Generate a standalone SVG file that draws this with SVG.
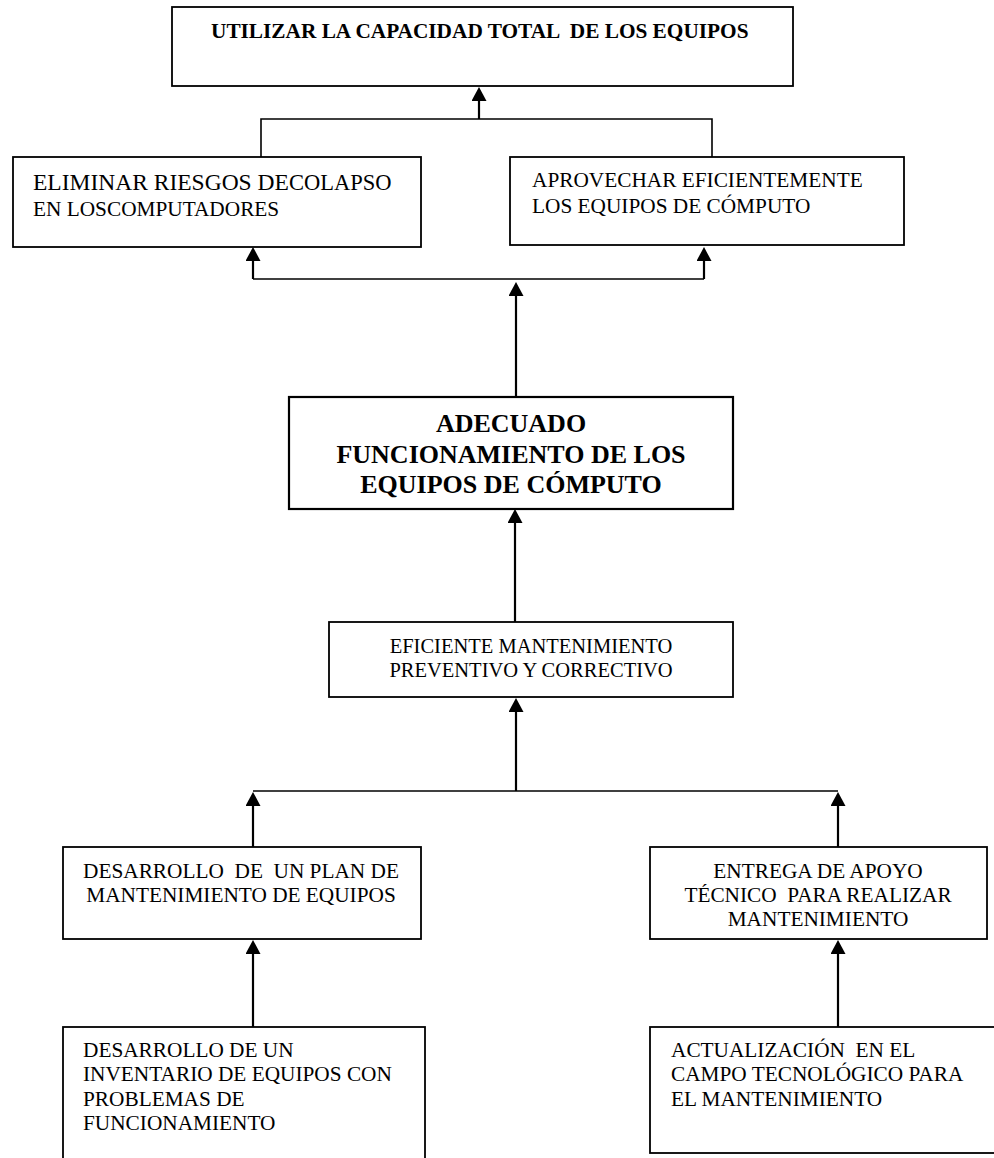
<svg xmlns="http://www.w3.org/2000/svg" width="994" height="1158" viewBox="0 0 994 1158">
<style>
  .box { fill: #ffffff; stroke: #000000; stroke-width: 1.8; }
  .t { font-family: "Liberation Serif", "Times New Roman", serif; font-size: 21.3px; fill: #000000; white-space: pre; }
  .c { text-anchor: middle; }
  .b { font-weight: bold; }
  .ln { fill: none; stroke: #000000; stroke-width: 1.6; }
  .ar { fill: none; stroke: #000000; stroke-width: 2.2; marker-end: url(#ah); }
</style>
<defs>
  <marker id="ah" viewBox="0 0 14 15" refX="6" refY="7.5" markerWidth="14" markerHeight="15" markerUnits="userSpaceOnUse" orient="auto">
    <path d="M0,0 L14,7.5 L0,15 Z" fill="#000000"/>
  </marker>
</defs>
<rect x="0" y="0" width="994" height="1158" fill="#ffffff"/>

<g id="connectors">
  <path class="ar" d="M479,119 V95"/>
  <path class="ln" d="M261,157 V119 H712 V157"/>
  <path class="ar" d="M253,279 V255"/>
  <path class="ar" d="M704,279 V255"/>
  <path class="ln" d="M253,279 H704"/>
  <path class="ar" d="M516,397 V290"/>
  <path class="ar" d="M515,622 V517"/>
  <path class="ar" d="M516,791 V706"/>
  <path class="ln" d="M253,791 H838"/>
  <path class="ar" d="M253,847 V800"/>
  <path class="ar" d="M838,847 V800"/>
  <path class="ar" d="M253,1027 V948"/>
  <path class="ar" d="M838,1027 V948"/>
</g>

<g id="node-utilizar">
  <rect class="box" x="172" y="7" width="621" height="79"/>
  <text class="t b" x="211" y="38">UTILIZAR LA CAPACIDAD TOTAL  DE LOS EQUIPOS</text>
</g>

<g id="node-eliminar">
  <rect class="box" x="13" y="157" width="408" height="90"/>
  <text class="t" x="33" y="190" style="font-size:23.5px">ELIMINAR RIESGOS DE<tspan style="font-size:22.5px">COLAPSO</tspan></text>
  <text class="t" x="33" y="216">EN LOSCOMPUTADORES</text>
</g>

<g id="node-aprovechar">
  <rect class="box" x="510" y="157" width="394" height="88"/>
  <text class="t" x="532" y="187">APROVECHAR EFICIENTEMENTE</text>
  <text class="t" x="532" y="213">LOS EQUIPOS DE CÓMPUTO</text>
</g>

<g id="node-adecuado">
  <rect class="box" x="289" y="397" width="444" height="112" style="stroke-width:2.2"/>
  <text class="t b c" x="511" y="432" style="font-size:26px">ADECUADO</text>
  <text class="t b c" x="511" y="463" style="font-size:26px">FUNCIONAMIENTO DE LOS</text>
  <text class="t b c" x="511" y="493" style="font-size:26px">EQUIPOS DE CÓMPUTO</text>
</g>

<g id="node-eficiente">
  <rect class="box" x="329" y="622" width="404" height="75"/>
  <text class="t c" x="531" y="653" style="font-size:20.5px">EFICIENTE MANTENIMIENTO</text>
  <text class="t c" x="531" y="677" style="font-size:20.5px">PREVENTIVO Y CORRECTIVO</text>
</g>

<g id="node-plan">
  <rect class="box" x="63" y="847" width="358" height="92"/>
  <text class="t c" x="241" y="878">DESARROLLO  DE  UN PLAN DE</text>
  <text class="t c" x="241" y="902">MANTENIMIENTO DE EQUIPOS</text>
</g>

<g id="node-entrega">
  <rect class="box" x="650" y="847" width="337" height="92"/>
  <text class="t c" x="818" y="878">ENTREGA DE APOYO</text>
  <text class="t c" x="818" y="902">TÉCNICO  PARA REALIZAR</text>
  <text class="t c" x="818" y="926">MANTENIMIENTO</text>
</g>

<g id="node-inventario">
  <rect class="box" x="63" y="1027" width="362" height="150"/>
  <text class="t" x="83" y="1057">DESARROLLO DE UN</text>
  <text class="t" x="83" y="1081">INVENTARIO DE EQUIPOS CON</text>
  <text class="t" x="83" y="1106">PROBLEMAS DE</text>
  <text class="t" x="83" y="1130">FUNCIONAMIENTO</text>
</g>

<g id="node-actualizacion">
  <rect class="box" x="650" y="1027" width="360" height="126"/>
  <text class="t" x="671" y="1057">ACTUALIZACIÓN  EN EL</text>
  <text class="t" x="671" y="1081">CAMPO TECNOLÓGICO PARA</text>
  <text class="t" x="671" y="1106">EL MANTENIMIENTO</text>
</g>
</svg>
